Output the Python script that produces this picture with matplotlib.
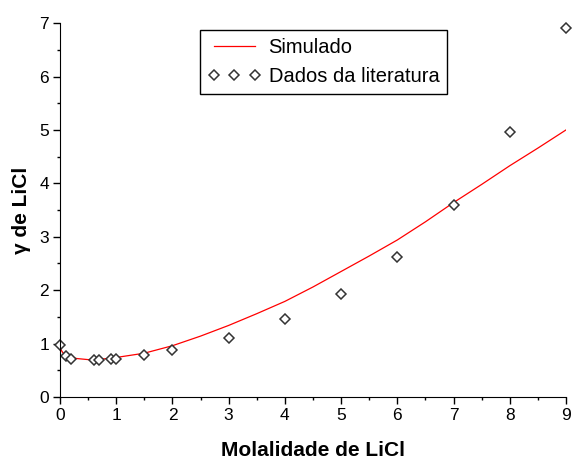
import matplotlib
matplotlib.use("Agg")
import matplotlib.pyplot as plt
from matplotlib.ticker import MultipleLocator

plt.rcParams["font.family"] = ["Liberation Sans", "DejaVu Sans"]

# simulated activity coefficient of LiCl vs molality
sim_m = [0.0, 0.02, 0.05, 0.1, 0.2, 0.3, 0.5, 0.75, 1.0, 1.25, 1.5, 1.75,
         2.0, 2.5, 3.0, 3.5, 4.0, 4.5, 5.0, 5.5, 6.0, 6.5, 7.0, 7.5, 8.0,
         8.5, 9.0]
sim_gamma = [1.0, 0.88, 0.83, 0.78, 0.74, 0.72, 0.70, 0.71, 0.74, 0.78,
             0.82, 0.89, 0.96, 1.14, 1.34, 1.56, 1.79, 2.06, 2.35, 2.64,
             2.94, 3.28, 3.64, 3.98, 4.33, 4.66, 5.0]

# literature data
lit_m = [0.001, 0.1, 0.2, 0.6, 0.7, 0.9, 1.0, 1.5, 2.0, 3.0, 4.0, 5.0, 6.0,
         7.0, 8.0, 9.0]
lit_gamma = [0.97, 0.77, 0.72, 0.70, 0.70, 0.72, 0.72, 0.78, 0.88, 1.10,
             1.46, 1.93, 2.62, 3.60, 4.96, 6.90]

fig = plt.figure(figsize=(5.73, 4.62), dpi=100)
ax = fig.add_axes([0.1047, 0.1407, 0.8831, 0.8093])

ax.plot(sim_m, sim_gamma, color="red", lw=0.9, label="Simulado")
ax.plot(lit_m, lit_gamma, ls="none", marker="D", ms=5.5, mfc="white",
        mec="#333333", mew=1.1, label="Dados da literatura", clip_on=False)

ax.set_xlim(0, 9)
ax.set_ylim(0, 7)
ax.xaxis.set_major_locator(MultipleLocator(1))
ax.xaxis.set_minor_locator(MultipleLocator(0.5))
ax.yaxis.set_major_locator(MultipleLocator(1))
ax.yaxis.set_minor_locator(MultipleLocator(0.5))
ax.tick_params(which="major", direction="out", length=5, width=1,
               labelsize=12.5, pad=3)
ax.tick_params(which="minor", direction="out", length=2.5, width=1)
ax.spines["top"].set_visible(False)
ax.spines["right"].set_visible(False)

ax.set_xlabel("Molalidade de LiCl", fontsize=15, fontweight="bold", labelpad=13)
ax.set_ylabel("γ de LiCl", fontsize=15, fontweight="bold", labelpad=6)

leg = ax.legend(loc="upper left", bbox_to_anchor=(0.277, 0.981),
                borderaxespad=0, numpoints=3, fontsize=14.5, fancybox=False,
                framealpha=1, edgecolor="black", handlelength=2.6,
                borderpad=0.4, labelspacing=0.5, handletextpad=0.4)
leg.get_frame().set_linewidth(1.0)

fig.savefig("out.png", dpi=100)
